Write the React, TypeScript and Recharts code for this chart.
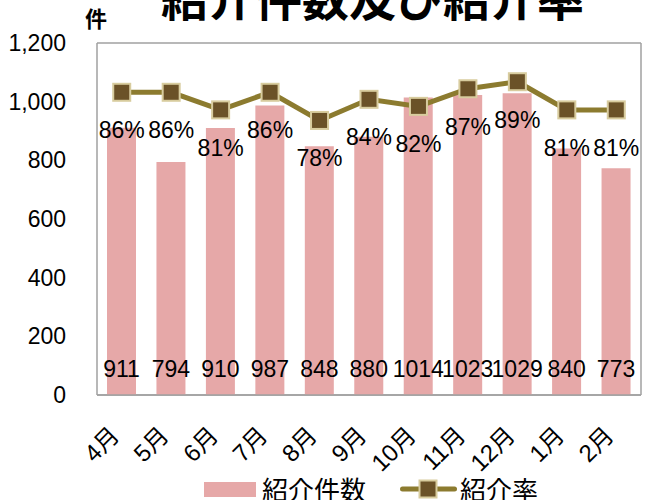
import React from "react";
import {
  ComposedChart,
  Bar,
  Line,
  XAxis,
  YAxis,
  CartesianGrid,
  LabelList,
  Legend,
} from "recharts";

const months = ["4月", "5月", "6月", "7月", "8月", "9月", "10月", "11月", "12月", "1月", "2月"];
const counts = [911, 794, 910, 987, 848, 880, 1014, 1023, 1029, 840, 773];
const rates = [0.86, 0.86, 0.81, 0.86, 0.78, 0.84, 0.82, 0.87, 0.89, 0.81, 0.81];
const leftTicks = [0, 200, 400, 600, 800, 1000, 1200];
const rightTicks = [0, 0.2, 0.4, 0.6, 0.8, 1];

const data = months.map((m, i) => ({ month: m, count: counts[i], rate: rates[i] }));

const FONT = "'Liberation Sans', 'Noto Sans CJK JP', sans-serif";
const BAR = "#E6A8A8";
const LINE = "#8C7B2F";
const MARK = "#6B5228";
const MARK_EDGE = "#D8CC9E";
const GRID = "#A0A0A0";

const MonthTick = (props: any) => {
  const { x, y, payload } = props;
  const px = x - 1;
  const py = y + 34;
  return (
    <text
      x={px}
      y={py}
      transform={`rotate(-45, ${px}, ${py})`}
      textAnchor="end"
      fontSize={24}
      fontFamily={FONT}
      fill="#000"
    >
      {payload.value}
    </text>
  );
};

const CountLabel = (props: any) => {
  const { x, y, width, height, value } = props;
  return (
    <text
      x={x + width / 2}
      y={y + height - 18}
      textAnchor="middle"
      fontSize={23}
      fontFamily={FONT}
      fill="#000"
    >
      {value}
    </text>
  );
};

const RateLabel = (props: any) => {
  const { x, y, value } = props;
  return (
    <text x={x} y={y + 46} textAnchor="middle" fontSize={23} fontFamily={FONT} fill="#000">
      {Math.round(value * 100)}%
    </text>
  );
};

const SquareDot = (props: any) => {
  const { cx, cy } = props;
  if (cx == null || cy == null) return null;
  return (
    <rect x={cx - 8.5} y={cy - 8.5} width={17} height={17} fill={MARK} stroke={MARK_EDGE} strokeWidth={2} />
  );
};

const LegendContent = () => (
  <div
    style={{
      display: "flex",
      alignItems: "center",
      justifyContent: "flex-start",
      fontFamily: "'Noto Sans CJK JP', sans-serif",
      fontSize: 26,
      lineHeight: 1,
      height: 30,
      paddingLeft: 204,
    }}
  >
    <svg width={52} height={15} style={{ marginRight: 6 }}>
      <rect x={0} y={0} width={52} height={15} fill={BAR} />
    </svg>
    <span style={{ marginRight: 34 }}>紹介件数</span>
    <svg width={57} height={20} style={{ marginRight: 3 }}>
      <line x1={2.5} y1={10} x2={54.5} y2={10} stroke={LINE} strokeWidth={5} strokeLinecap="round" />
      <rect x={19.5} y={1.5} width={17} height={17} fill={MARK} stroke={MARK_EDGE} strokeWidth={2} />
    </svg>
    <span>紹介率</span>
  </div>
);

export default function App() {
  return (
    <div
      style={{
        position: "absolute",
        left: 0,
        top: 0,
        width: 645,
        height: 500,
        overflow: "hidden",
        background: "#fff",
      }}
    >
      <div
        style={{
          position: "absolute",
          left: 0,
          width: 745,
          top: -28,
          textAlign: "center",
          fontFamily: "'Noto Sans CJK JP', sans-serif",
          fontWeight: 700,
          fontSize: 47,
          lineHeight: 1,
          whiteSpace: "nowrap",
        }}
      >
        紹介件数及び紹介率
      </div>
      <div
        style={{
          position: "absolute",
          left: 85,
          top: 6,
          fontFamily: "'Noto Sans CJK JP', sans-serif",
          fontWeight: 700,
          fontSize: 22,
          lineHeight: 1,
        }}
      >
        件
      </div>
      <ComposedChart
        width={645}
        height={500}
        data={data}
        margin={{ top: 43, right: 0, left: 0, bottom: 0 }}
        barSize={29}
      >
        <CartesianGrid vertical={false} stroke={GRID} strokeWidth={1.5} />
        <XAxis
          dataKey="month"
          height={75}
          tickLine={false}
          axisLine={{ stroke: GRID, strokeWidth: 1.5 }}
          tick={<MonthTick />}
          interval={0}
        />
        <YAxis
          yAxisId="left"
          width={97}
          domain={[0, 1200]}
          ticks={leftTicks}
          tickLine={false}
          tickSize={0}
          tickMargin={31}
          axisLine={{ stroke: GRID, strokeWidth: 1.5 }}
          tickFormatter={(v: number) => v.toLocaleString("en-US")}
          tick={{ fontSize: 23, fontFamily: FONT, fill: "#000" }}
        />
        <YAxis
          yAxisId="right"
          orientation="right"
          width={4}
          domain={[0, 1]}
          ticks={rightTicks}
          tickSize={6}
          tickLine={{ stroke: GRID, strokeWidth: 1.5 }}
          axisLine={{ stroke: GRID, strokeWidth: 1.5 }}
          tick={false}
        />
        <Legend
          verticalAlign="bottom"
          content={<LegendContent />}
          wrapperStyle={{ height: 30, bottom: -4, left: 0, width: 645 }}
        />
        <Bar yAxisId="left" dataKey="count" name="紹介件数" fill={BAR} isAnimationActive={false}>
          <LabelList dataKey="count" content={<CountLabel />} />
        </Bar>
        <Line
          yAxisId="right"
          dataKey="rate"
          name="紹介率"
          stroke={LINE}
          strokeWidth={5}
          dot={<SquareDot />}
          activeDot={false}
          isAnimationActive={false}
        >
          <LabelList dataKey="rate" content={<RateLabel />} />
        </Line>
      </ComposedChart>
    </div>
  );
}
